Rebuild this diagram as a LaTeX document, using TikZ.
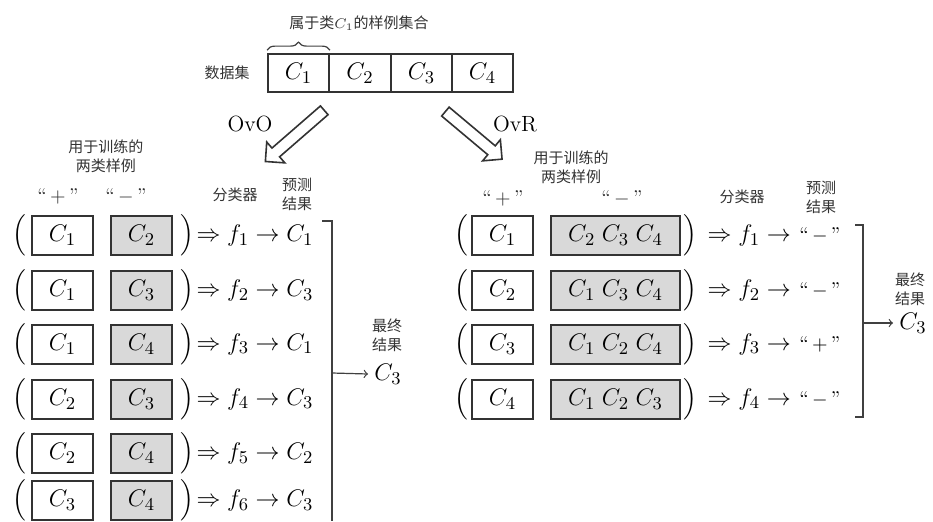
\documentclass[tikz,border=0pt]{standalone}
\usepackage{fontspec}
\newfontfamily\cjk{Noto Sans CJK SC}
\usepackage{amsmath,amssymb}
\usetikzlibrary{shapes.arrows,decorations.pathreplacing}
\tikzset{
  cls/.style={font=\fontsize{13}{15}\selectfont, inner sep=0pt},
  paren/.style={font=\fontsize{11.5}{14}\selectfont, inner sep=0pt},
  zh/.style={font=\cjk\fontsize{7.5}{9.5}\selectfont, align=center, text=black!80},
  quot/.style={font=\fontsize{10}{12}\selectfont, text=black!80},
  setbox/.style={cls, draw=black!80, line width=0.9pt, minimum width=30.5pt, minimum height=19pt},
  posbox/.style={cls, draw=black!80, line width=1pt, minimum width=30.5pt, minimum height=19.5pt},
  negbox/.style={posbox, fill=black!15},
  negboxwide/.style={negbox, minimum width=64.5pt},
  hollow/.style={single arrow, draw=black!80, line width=0.8pt, minimum height=39pt,
    minimum width=13pt, single arrow head extend=4pt, inner sep=2.5pt},
  bracket/.style={draw=black!75, line width=0.6pt},
}
\newcommand{\qmark}[1]{{\fontsize{10}{12}\selectfont``\,$#1$\,''}}
\begin{document}
\begin{tikzpicture}[x=0.5pt, y=-0.5pt]
\useasboundingbox (0,0) rectangle (933,521);
% data set
\node[zh] (setname) at (227,73) {数据集};
\node[setbox] (set1) at (298.5,73) {$C_1$};
\node[setbox] (set2) at (360,73) {$C_2$};
\node[setbox] (set3) at (421.5,73) {$C_3$};
\node[setbox] (set4) at (482.5,73) {$C_4$};
\draw[bracket, decorate, decoration={brace, amplitude=4pt}]
  ([yshift=1.5pt]set1.north west) -- ([yshift=1.5pt]set1.north east);
\node[zh] (setC1) at (359,23) {属于类$C_1$的样例集合};
% the two schemes
\node[hollow, rotate=221] (arrOVO) at (297,134) {};
\node[font=\fontsize{11}{13}\selectfont] (nameOVO) at (250,124) {OvO};
\node[hollow, rotate=320, minimum height=37pt] (arrOVR) at (471.5,133.5) {};
\node[font=\fontsize{11}{13}\selectfont] (nameOVR) at (515,124) {OvR};

% OvO
\node[zh] (trainOVO) at (106,156) {用于训练的\\两类样例};
\node[quot] (plusOVO) at (58,196) {\qmark{+}};
\node[quot] (minusOVO) at (126,196) {\qmark{-}};
\node[zh] (clfOVO) at (235,195) {分类器};
\node[zh] (predOVO) at (297,194) {预测\\结果};
\node[paren] (lpOVO1) at (19,235.5) {$\Big($};
\node[posbox] (posOVO1) at (62.5,235.5) {$C_1$};
\node[negbox] (negOVO1) at (141.5,235.5) {$C_2$};
\node[paren] (rpOVO1) at (187,235.5) {$\Big)$};
\node[cls] (resOVO1) at (255,235.5) {$\Rightarrow f_1 \to C_1$};
\node[paren] (lpOVO2) at (19,290.5) {$\Big($};
\node[posbox] (posOVO2) at (62.5,290.5) {$C_1$};
\node[negbox] (negOVO2) at (141.5,290.5) {$C_3$};
\node[paren] (rpOVO2) at (187,290.5) {$\Big)$};
\node[cls] (resOVO2) at (255,290.5) {$\Rightarrow f_2 \to C_3$};
\node[paren] (lpOVO3) at (19,344) {$\Big($};
\node[posbox] (posOVO3) at (62.5,344) {$C_1$};
\node[negbox] (negOVO3) at (141.5,344) {$C_4$};
\node[paren] (rpOVO3) at (187,344) {$\Big)$};
\node[cls] (resOVO3) at (255,344) {$\Rightarrow f_3 \to C_1$};
\node[paren] (lpOVO4) at (19,399) {$\Big($};
\node[posbox] (posOVO4) at (62.5,399) {$C_2$};
\node[negbox] (negOVO4) at (141.5,399) {$C_3$};
\node[paren] (rpOVO4) at (187,399) {$\Big)$};
\node[cls] (resOVO4) at (255,399) {$\Rightarrow f_4 \to C_3$};
\node[paren] (lpOVO5) at (19,453.5) {$\Big($};
\node[posbox] (posOVO5) at (62.5,453.5) {$C_2$};
\node[negbox] (negOVO5) at (141.5,453.5) {$C_4$};
\node[paren] (rpOVO5) at (187,453.5) {$\Big)$};
\node[cls] (resOVO5) at (255,453.5) {$\Rightarrow f_5 \to C_2$};
\node[paren] (lpOVO6) at (19,500.5) {$\Big($};
\node[posbox] (posOVO6) at (62.5,500.5) {$C_3$};
\node[negbox] (negOVO6) at (141.5,500.5) {$C_4$};
\node[paren] (rpOVO6) at (187,500.5) {$\Big)$};
\node[cls] (resOVO6) at (255,500.5) {$\Rightarrow f_6 \to C_3$};
\coordinate (brOVOa) at (322,221);
\coordinate (brOVOb) at (332,221);
\coordinate (brOVOc) at (332,521);
\coordinate (brOVOm) at (332,373);
\draw[bracket] (brOVOa) -- (brOVOb) -- (brOVOc);
\node[zh] (finzhOVO) at (387,335) {最终\\结果};
\node[cls, inner sep=3pt] (finOVO) at (388,374) {$C_3$};
\draw[bracket, ->] (brOVOm) -- (finOVO.west);

% OvR
\node[zh] (trainOVR) at (571,167) {用于训练的\\两类样例};
\node[quot] (plusOVR) at (503,198) {\qmark{+}};
\node[quot] (minusOVR) at (622,198) {\qmark{-}};
\node[zh] (clfOVR) at (742,197) {分类器};
\node[zh] (predOVR) at (821,197) {预测\\结果};
\node[paren] (lpOVR1) at (461,235.5) {$\Big($};
\node[posbox] (posOVR1) at (502.5,235.5) {$C_1$};
\node[negboxwide] (negOVR1) at (615.5,235.5) {$C_2\;C_3\;C_4$};
\node[paren] (rpOVR1) at (690,235.5) {$\Big)$};
\node[cls] (resOVR1) at (774,235.5) {$\Rightarrow f_1 \to$ \qmark{-}};
\node[paren] (lpOVR2) at (461,290.5) {$\Big($};
\node[posbox] (posOVR2) at (502.5,290.5) {$C_2$};
\node[negboxwide] (negOVR2) at (615.5,290.5) {$C_1\;C_3\;C_4$};
\node[paren] (rpOVR2) at (690,290.5) {$\Big)$};
\node[cls] (resOVR2) at (774,290.5) {$\Rightarrow f_2 \to$ \qmark{-}};
\node[paren] (lpOVR3) at (461,344) {$\Big($};
\node[posbox] (posOVR3) at (502.5,344) {$C_3$};
\node[negboxwide] (negOVR3) at (615.5,344) {$C_1\;C_2\;C_4$};
\node[paren] (rpOVR3) at (690,344) {$\Big)$};
\node[cls] (resOVR3) at (774,344) {$\Rightarrow f_3 \to$ \qmark{+}};
\node[paren] (lpOVR4) at (461,399) {$\Big($};
\node[posbox] (posOVR4) at (502.5,399) {$C_4$};
\node[negboxwide] (negOVR4) at (615.5,399) {$C_1\;C_2\;C_3$};
\node[paren] (rpOVR4) at (690,399) {$\Big)$};
\node[cls] (resOVR4) at (774,399) {$\Rightarrow f_4 \to$ \qmark{-}};
\coordinate (brOVRa) at (855,225);
\coordinate (brOVRb) at (863,225);
\coordinate (brOVRc) at (863,417);
\coordinate (brOVRd) at (855,417);
\coordinate (brOVRm) at (863,323);
\draw[bracket] (brOVRa) -- (brOVRb) -- (brOVRc) -- (brOVRd);
\node[zh] (finzhOVR) at (910,289) {最终\\结果};
\node[cls, inner sep=3pt] (finOVR) at (913,323) {$C_3$};
\draw[bracket, ->] (brOVRm) -- (finOVR.west);
\end{tikzpicture}
\end{document}
